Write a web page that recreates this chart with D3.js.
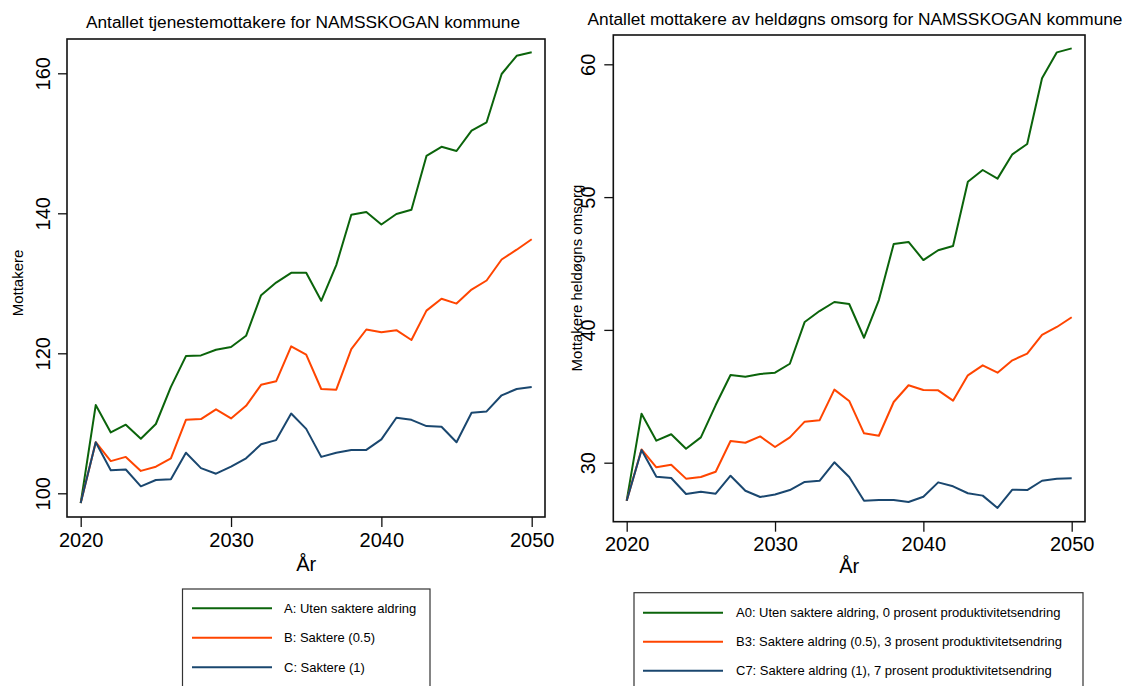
<!DOCTYPE html>
<html><head><meta charset="utf-8">
<script src="https://cdn.jsdelivr.net/npm/d3@7"></script>
<style>body{margin:0;background:#fff}svg{display:block}text{font-family:"Liberation Sans",Arial,Helvetica,sans-serif;fill:#000}</style>
</head><body>
<svg id="c" width="1126" height="686"></svg>
<script>
const years = d3.range(2020, 2051);
const xTicks = [2020, 2030, 2040, 2050];

// Left panel: tjenestemottakere
const leftTitle = "Antallet tjenestemottakere for NAMSSKOGAN kommune";
const leftYLabel = "Mottakere";
const leftYTicks = [100, 120, 140, 160];
const leftA = [98.6,112.6,108.7,109.8,107.8,109.9,115.2,119.6,119.7,120.5,120.9,122.5,128.3,130.1,131.5,131.5,127.5,132.6,139.8,140.2,138.4,139.9,140.5,148.2,149.5,148.9,151.8,153.0,159.9,162.5,163.0];
const leftB = [98.6,107.3,104.6,105.2,103.2,103.8,105.0,110.5,110.6,112.0,110.7,112.5,115.5,116.0,121.0,119.8,114.9,114.8,120.6,123.4,123.0,123.3,121.9,126.1,127.8,127.1,129.1,130.4,133.4,134.8,136.3];
const leftC = [98.6,107.3,103.3,103.4,101.0,101.9,102.0,105.8,103.6,102.8,103.8,105.0,107.0,107.6,111.4,109.2,105.2,105.8,106.2,106.2,107.7,110.8,110.5,109.6,109.5,107.3,111.5,111.7,114.0,114.9,115.2];
const leftNames = ["A: Uten saktere aldring", "B: Saktere (0.5)", "C: Saktere (1)"];

// Right panel: heldøgns omsorg
const rightTitle = "Antallet mottakere av heldøgns omsorg for NAMSSKOGAN kommune";
const rightYLabel = "Mottakere heldøgns omsorg";
const rightYTicks = [30, 40, 50, 60];
const rightA = [27.14,33.69,31.66,32.14,31.05,31.91,34.34,36.60,36.48,36.68,36.78,37.45,40.60,41.42,42.10,41.95,39.41,42.25,46.47,46.62,45.26,46.00,46.32,51.16,52.04,51.39,53.22,54.00,58.95,60.90,61.20];
const rightB = [27.14,31.00,29.65,29.85,28.80,28.92,29.32,31.63,31.50,31.98,31.18,31.91,33.09,33.19,35.50,34.65,32.21,32.03,34.57,35.83,35.47,35.45,34.67,36.58,37.33,36.78,37.71,38.21,39.62,40.22,40.95];
const rightC = [27.14,30.95,28.95,28.85,27.64,27.82,27.67,29.02,27.89,27.42,27.60,27.94,28.55,28.64,30.03,28.92,27.14,27.19,27.19,27.04,27.44,28.52,28.22,27.70,27.52,26.59,27.97,27.94,28.64,28.80,28.83];
const rightNames = ["A0: Uten saktere aldring, 0 prosent produktivitetsendring", "B3: Saktere aldring (0.5), 3 prosent produktivitetsendring", "C7: Saktere aldring (1), 7 prosent produktivitetsendring"];

const xLabel = "År";
const colors = ["#0b640b", "#ff4500", "#1a476f"];

const svg = d3.select("#c");

function panel(cfg) {
  const g = svg.append("g");
  const x = d3.scaleLinear().domain([2020, 2050]).range(cfg.xr);
  const y = d3.scaleLinear().domain([cfg.yTicks[0], cfg.yTicks[cfg.yTicks.length-1]]).range(cfg.yr);
  // frame
  g.append("rect").attr("x", cfg.box[0]).attr("y", cfg.box[1])
    .attr("width", cfg.box[2]-cfg.box[0]).attr("height", cfg.box[3]-cfg.box[1])
    .attr("fill", "none").attr("stroke", "#111").attr("stroke-width", 1.6);
  // title
  g.append("text").attr("x", cfg.titleX).attr("y", cfg.titleY).attr("text-anchor", "middle")
    .style("font-size", "17.3px").text(cfg.title);
  // y axis
  const ya = g.append("g").attr("transform", `translate(${cfg.box[0]},0)`)
    .call(d3.axisLeft(y).tickValues(cfg.yTicks).tickSize(9).tickPadding(0).tickFormat(d3.format("d")));
  ya.select(".domain").remove();
  ya.selectAll(".tick line").attr("stroke", "#111").attr("stroke-width", 1.3);
  ya.selectAll(".tick text").attr("x", null).attr("dy", null).attr("text-anchor", "middle")
    .attr("transform", `translate(${-cfg.yLabOff},0) rotate(-90)`)
    .style("font-size", "20px").style("font-family", '"Liberation Sans",Arial,sans-serif').attr("fill", "#000");
  // x axis
  const xa = g.append("g").attr("transform", `translate(0,${cfg.box[3]})`)
    .call(d3.axisBottom(x).tickValues(xTicks).tickSize(10).tickPadding(0).tickFormat(d3.format("d")));
  xa.select(".domain").remove();
  xa.selectAll(".tick line").attr("stroke", "#111").attr("stroke-width", 1.3);
  xa.selectAll(".tick text").attr("dy", null).attr("y", cfg.xLabOff)
    .style("font-size", "20px").style("font-family", '"Liberation Sans",Arial,sans-serif').attr("fill", "#000");
  // axis titles
  g.append("text").attr("x", x(2035)).attr("y", cfg.xTitleY).attr("text-anchor", "middle")
    .style("font-size", "20px").text(xLabel);
  g.append("text").attr("transform", `translate(${cfg.yTitleX},${cfg.yTitleY}) rotate(-90)`)
    .attr("text-anchor", "middle").style("font-size", "15px").text(cfg.yLabel);
  // lines
  const line = d3.line().x((d, i) => x(years[i])).y(d => y(d));
  cfg.series.forEach((s, k) => {
    g.append("path").datum(s).attr("d", line).attr("fill", "none")
      .attr("stroke", colors[k]).attr("stroke-width", 2).attr("stroke-linejoin", "round");
  });
  // legend
  const L = cfg.legend;
  g.append("rect").attr("x", L.x0).attr("y", L.y0).attr("width", L.x1 - L.x0).attr("height", 200)
    .attr("fill", "#fff").attr("stroke", "#333").attr("stroke-width", 1.2);
  cfg.names.forEach((n, k) => {
    const yy = L.rows[k];
    g.append("line").attr("x1", L.lx0).attr("x2", L.lx1).attr("y1", yy).attr("y2", yy)
      .attr("stroke", colors[k]).attr("stroke-width", 2);
    g.append("text").attr("x", L.tx).attr("y", yy + 4.5).style("font-size", "13px").text(n);
  });
}

panel({
  xr: [80.7, 531.7], yr: [493.3, 73.3], box: [67, 39, 545, 517],
  yTicks: leftYTicks, title: leftTitle, titleX: 303, titleY: 28,
  yLabOff: 17, xLabOff: 30, xTitleY: 571, yTitleX: 23, yTitleY: 283,
  yLabel: leftYLabel, series: [leftA, leftB, leftC], names: leftNames,
  legend: {x0: 182.5, x1: 430, y0: 589, rows: [608.3, 637.7, 667.3], lx0: 192, lx1: 272, tx: 284}
});
panel({
  xr: [626.7, 1071.7], yr: [462.7, 64.3], box: [613.3, 35, 1085, 521.7],
  yTicks: rightYTicks, title: rightTitle, titleX: 855, titleY: 25,
  yLabOff: 18, xLabOff: 29, xTitleY: 573, yTitleX: 582, yTitleY: 278,
  yLabel: rightYLabel, series: [rightA, rightB, rightC], names: rightNames,
  legend: {x0: 634, x1: 1083, y0: 592.7, rows: [612.7, 641.7, 670.7], lx0: 643, lx1: 723, tx: 736}
});
</script>
</body></html>
